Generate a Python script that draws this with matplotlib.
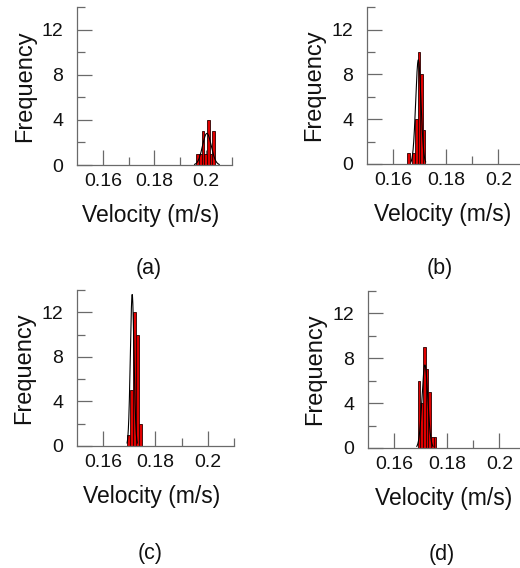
import numpy as np
import matplotlib
matplotlib.use('Agg')
import matplotlib.pyplot as plt

plt.rcParams['font.family'] = ['Liberation Sans', 'DejaVu Sans']

# histogram data (left edge of first bin, bin width, counts)
panel_names = ['(a)', '(b)', '(c)', '(d)']
bin_start = [0.1962, 0.1652, 0.16924, 0.16885]
bin_width = [0.00103, 0.00100, 0.00110, 0.00102]
counts_a = [1, 1, 3, 1, 4, 1, 3]
counts_b = [1, 0, 1, 4, 10, 8, 3]
counts_c = [1, 5, 12, 10, 2]
counts_d = [6, 4, 9, 7, 5, 1, 1]
all_counts = [counts_a, counts_b, counts_c, counts_d]

# fitted normal curve parameters
fit_mu = [0.2003, 0.1695, 0.1711, 0.1716]
fit_sd = [0.0017, 0.0010, 0.0007, 0.0011]
fit_peak = [2.8, 9.3, 13.6, 7.4]

x_ticks = [0.16, 0.18, 0.2]
x_tick_labels = ['0.16', '0.18', '0.2']
x_minor = [0.17, 0.19, 0.21]
y_ticks = [0, 4, 8, 12]
y_minor = [2, 6, 10, 14]

fig = plt.figure(figsize=(5.2, 5.68), dpi=100)

# axes boxes in figure fractions
boxes = [[0.148, 0.7095, 0.298, 0.278],
         [0.706, 0.7113, 0.303, 0.276],
         [0.148, 0.2148, 0.302, 0.2746],
         [0.708, 0.2113, 0.303, 0.2764]]
letter_pos = [(0.285, 0.528), (0.846, 0.528), (0.288, 0.026), (0.850, 0.023)]

spine_col = '#6a6a6a'
text_col = '#111111'

for i in range(4):
    ax = fig.add_axes(boxes[i])
    cnt = all_counts[i]
    edges = [bin_start[i] + k * bin_width[i] for k in range(len(cnt))]
    ax.bar(edges, cnt, width=bin_width[i], align='edge', color='#e00000',
           edgecolor='#2a0000', linewidth=0.6, zorder=2)

    # normal fit curve
    xs = np.linspace(fit_mu[i] - 2.8 * fit_sd[i], fit_mu[i] + 2.8 * fit_sd[i], 200)
    ys = fit_peak[i] * np.exp(-0.5 * ((xs - fit_mu[i]) / fit_sd[i]) ** 2)
    ax.plot(xs, ys, color='black', lw=0.8, zorder=3)

    ax.set_xlim(0.15, 0.21)
    ax.set_ylim(0, 14)
    ax.set_xticks(x_ticks)
    ax.set_xticklabels(x_tick_labels)
    ax.set_xticks(x_minor, minor=True)
    ax.set_yticks(y_ticks)
    ax.set_yticks(y_minor, minor=True)

    for s in ['top', 'right']:
        ax.spines[s].set_visible(False)
    for s in ['left', 'bottom']:
        ax.spines[s].set_color(spine_col)
        ax.spines[s].set_linewidth(0.9)

    ax.tick_params(which='major', direction='in', length=11, width=0.9,
                   color=spine_col, labelsize=14, labelcolor=text_col)
    ax.tick_params(which='minor', direction='in', length=5.5, width=0.9,
                   color=spine_col)
    ax.tick_params(axis='x', which='major', pad=6)
    ax.tick_params(axis='y', which='major', pad=10)

    ax.set_xlabel('Velocity (m/s)', fontsize=16.5, color=text_col)
    ax.xaxis.set_label_coords(0.477, -0.25)
    ax.set_ylabel('Frequency', fontsize=17, color=text_col)
    ax.yaxis.set_label_coords(-0.335, 0.5)
    ax.yaxis.label.set_va('center')

    fig.text(letter_pos[i][0], letter_pos[i][1], panel_names[i], fontsize=15.5,
             color=text_col, ha='center', va='center')

fig.savefig('out.png', dpi=100)
